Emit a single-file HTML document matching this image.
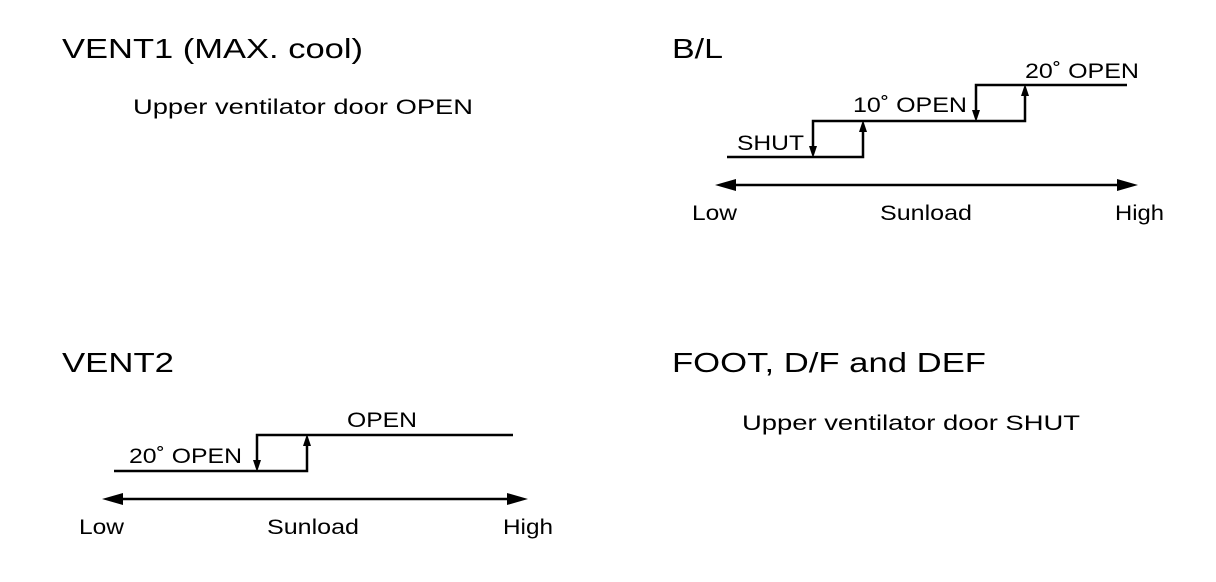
<!DOCTYPE html>
<html><head><meta charset="utf-8"><style>
html,body{margin:0;padding:0;background:#fff;}
svg{display:block;}
text{font-family:"Liberation Sans",Arial,sans-serif;fill:#000;}
</style></head><body>
<svg width="1216" height="582" viewBox="0 0 1216 582" xmlns="http://www.w3.org/2000/svg">
<defs>
<marker id="ah" viewBox="0 0 10 10" refX="10" refY="5" markerWidth="5" markerHeight="5" orient="auto-start-reverse" markerUnits="userSpaceOnUse">
</marker>
</defs>
<g font-size="28">
<text x="62" y="58" textLength="301" lengthAdjust="spacingAndGlyphs">VENT1 (MAX. cool)</text>
<text x="672" y="58" textLength="51" lengthAdjust="spacingAndGlyphs">B/L</text>
<text x="62" y="372" textLength="112" lengthAdjust="spacingAndGlyphs">VENT2</text>
<text x="672" y="372" textLength="314" lengthAdjust="spacingAndGlyphs">FOOT, D/F and DEF</text>
</g>
<g font-size="21">
<text x="133" y="114" textLength="340" lengthAdjust="spacingAndGlyphs">Upper ventilator door OPEN</text>
<text x="742" y="430" textLength="338" lengthAdjust="spacingAndGlyphs">Upper ventilator door SHUT</text>
<text x="737" y="150" textLength="67" lengthAdjust="spacingAndGlyphs">SHUT</text>
<text x="853" y="112" textLength="114" lengthAdjust="spacingAndGlyphs">10˚ OPEN</text>
<text x="1025" y="78" textLength="114" lengthAdjust="spacingAndGlyphs">20˚ OPEN</text>
<text x="692" y="220" textLength="45" lengthAdjust="spacingAndGlyphs">Low</text>
<text x="880" y="220" textLength="92" lengthAdjust="spacingAndGlyphs">Sunload</text>
<text x="1115" y="220" textLength="49" lengthAdjust="spacingAndGlyphs">High</text>
<text x="129" y="463" textLength="113" lengthAdjust="spacingAndGlyphs">20˚ OPEN</text>
<text x="347" y="427" textLength="70" lengthAdjust="spacingAndGlyphs">OPEN</text>
<text x="79" y="534" textLength="45" lengthAdjust="spacingAndGlyphs">Low</text>
<text x="267" y="534" textLength="92" lengthAdjust="spacingAndGlyphs">Sunload</text>
<text x="503" y="534" textLength="50" lengthAdjust="spacingAndGlyphs">High</text>
</g>
<g stroke="#000" stroke-width="2.5" fill="none">
<!-- B/L steps -->
<polyline points="727,157 863,157 863,125"/>
<polyline points="813,154 813,121 1025,121 1025,89"/>
<polyline points="976,118 976,85 1127,85"/>
<line x1="722" y1="185" x2="1130" y2="185"/>
<!-- VENT2 -->
<polyline points="114,471 307,471 307,439"/>
<polyline points="257,468 257,435 513,435"/>
<line x1="108" y1="499" x2="520" y2="499"/>
</g>
<g fill="#000">
<!-- B/L arrowheads -->
<polygon points="813,158 809,146 817,146"/>
<polygon points="863,120 859,132 867,132"/>
<polygon points="976,122 972,110 980,110"/>
<polygon points="1025,84 1021,96 1029,96"/>
<polygon points="715,185 736,179 736,191"/>
<polygon points="1138,185 1117,179 1117,191"/>
<!-- VENT2 arrowheads -->
<polygon points="257,472 253,460 261,460"/>
<polygon points="307,434 303,446 311,446"/>
<polygon points="102,499 123,493 123,505"/>
<polygon points="528,499 507,493 507,505"/>
</g>
</svg>
</body></html>
